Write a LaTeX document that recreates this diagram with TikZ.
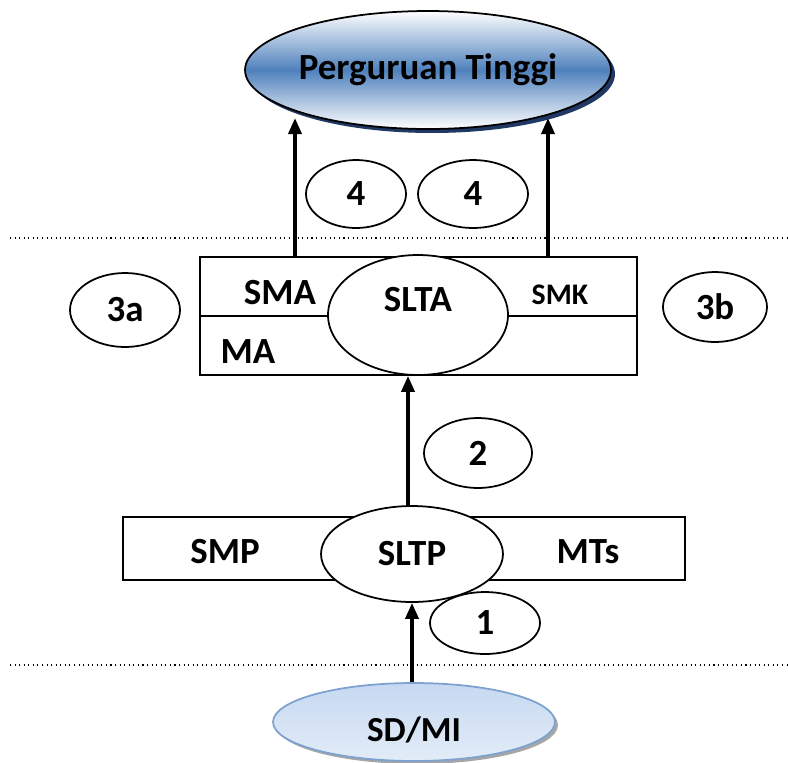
\documentclass[tikz,border=0pt]{standalone}
\usepackage{fontspec}
\setmainfont{Carlito}
\usetikzlibrary{shapes.geometric,shadows,arrows.meta}
\definecolor{ptblue}{RGB}{79,129,189}
\definecolor{ptshadow}{RGB}{31,56,100}
\definecolor{sdfill}{RGB}{198,217,241}
\definecolor{sdline}{RGB}{126,162,207}
\tikzset{
  oval/.style={ellipse,draw,line width=1pt,fill=white,inner sep=0pt,
    font=\fontsize{21}{24}\selectfont\bfseries},
  lbl/.style={inner sep=0pt,font=\fontsize{21}{24}\selectfont\bfseries},
  box/.style={draw,line width=1pt,inner sep=0pt},
  arr/.style={line width=2pt,-{Triangle[length=3.2mm,width=2.6mm]}},
  sep/.style={dotted,line width=.6pt}
}
\begin{document}
\begin{tikzpicture}[x=.02cm,y=-.02cm]
\useasboundingbox (0,0) rectangle (788,762);
\draw[sep] (10,238) -- (788,238);
\draw[sep] (10,665) -- (788,665);
%%%%
\node[oval,minimum width=7.32cm,minimum height=2.36cm,top color=white,bottom color=white,
  middle color=ptblue,drop shadow={shadow xshift=.08cm,shadow yshift=-.08cm,fill=ptshadow,opacity=1}]
  (pt) at (428,70) {Perguruan Tinggi};
\node[oval,minimum width=2cm,minimum height=1.36cm] (n4a) at (356,194) {4};
\node[oval,minimum width=2.2cm,minimum height=1.36cm] (n4b) at (473,194) {4};
%%%%
\node[box,minimum width=8.74cm,minimum height=2.36cm] (sltabox) at (418.5,316) {};
\draw[line width=1pt] (sltabox.west) -- (sltabox.east);
\node[oval,minimum width=3.6cm,minimum height=2.4cm] (slta) at (418,315) {};
\node[lbl] (sltatxt) at (418,300) {SLTA};
\node[lbl] (sma) at (280,293) {SMA};
\node[lbl,font=\fontsize{17}{20}\selectfont\bfseries] (smk) at (560,295) {SMK};
\node[lbl] (ma) at (248,352) {MA};
\node[oval,minimum width=2.2cm,minimum height=1.48cm] (n3a) at (125,310) {3a};
\node[oval,minimum width=2.08cm,minimum height=1.4cm] (n3b) at (715,307) {3b};
\coordinate (t1) at (295,118);
\coordinate (t2) at (548,118);
\draw[arr] (sltabox.north -| t1) -- (t1);
\draw[arr] (sltabox.north -| t2) -- (t2);
%%%%
\node[box,minimum width=11.24cm,minimum height=1.26cm] (sltpbox) at (404,548.5) {};
\node[oval,minimum width=3.64cm,minimum height=1.92cm] (sltp) at (412,554) {SLTP};
\node[lbl] (smp) at (225,552) {SMP};
\node[lbl] (mts) at (588,552) {MTs};
\node[oval,minimum width=2.16cm,minimum height=1.4cm] (n2) at (478,453) {2};
\node[oval,minimum width=2.2cm,minimum height=1.24cm] (n1) at (485,623) {1};
\coordinate (m) at (408,0);
\draw[arr] (sltp.north -| m) -- (sltabox.south -| m);
%%%%
\node[oval,draw=sdline,minimum width=5.64cm,minimum height=1.56cm,top color=sdfill,
  bottom color=sdfill!50!white,drop shadow={shadow xshift=.06cm,shadow yshift=-.06cm,fill=black!35,opacity=1}]
  (sd) at (414,722) {};
\node[lbl,font=\fontsize{20}{24}\selectfont\bfseries] (sdtxt) at (414,730) {SD/MI};
\draw[arr] (sd.north -| sltp) -- (sltp.south);
\end{tikzpicture}
\end{document}
